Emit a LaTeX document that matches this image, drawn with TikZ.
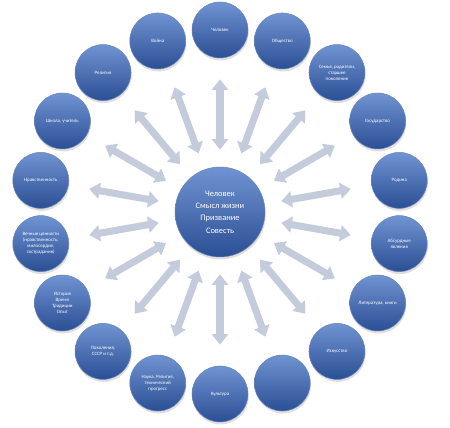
\documentclass[tikz,border=0pt]{standalone}
\usepackage{fontspec}
\setmainfont{Carlito}
\usetikzlibrary{arrows.meta,shadows}

\definecolor{balltop}{HTML}{7093D2}
\definecolor{ballbot}{HTML}{2B4F94}
\definecolor{arrowgray}{HTML}{C4CBDA}

\tikzset{
  ball/.style={circle, inner sep=0pt, align=center, text=white,
    top color=balltop, bottom color=ballbot, draw=ballbot!70!white, line width=0.3pt,
    drop shadow={opacity=0.25, shadow xshift=0.4pt, shadow yshift=-1.4pt}},
  ringball/.style={ball, minimum size=1.12cm, font=\fontsize{2.8}{3.5}\selectfont},
  hubball/.style={ball, minimum size=1.8cm, font=\fontsize{4.8}{7}\selectfont},
  twoway/.style={draw=arrowgray, line width=4pt,
    {Triangle[width=9pt,length=6pt]}-{Triangle[width=9pt,length=6pt]},
    shorten <=0.34cm, shorten >=0.42cm}
}

\begin{document}
\begin{tikzpicture}[x=0.02cm, y=0.02cm]
    \useasboundingbox (-220, -216) rectangle (230, 212);
    \node[hubball] (hub) at (0, 0) {Человек\\Смысл жизни\\Призвание\\Совесть};
    \foreach \a/\t [count=\i] in {
        90/Человек, 110/Война, 130/Религия, 150/{Школа, учитель},
        170/Нравственность,
        190/{Вечные ценности\\(нравственность,\\милосердие,\\сострадание)},
        210/{История\\Время\\Традиции\\Опыт}, 230/{Поколения,\\СССР и т.д.},
        250/{Наука, Религия,\\технический\\прогресс}, 270/Культура, 290/{},
        310/Искусство, 330/{Литература, книги}, 350/{Абсурдные\\явления},
        10/Родина, 30/Государство, 50/{Семья, родители,\\старшее\\поколение},
        70/Общество} {
            \node[ringball] (r\i) at (\a:182) {\t};
            \draw[twoway] (hub) -- (r\i);
    }
\end{tikzpicture}
\end{document}
